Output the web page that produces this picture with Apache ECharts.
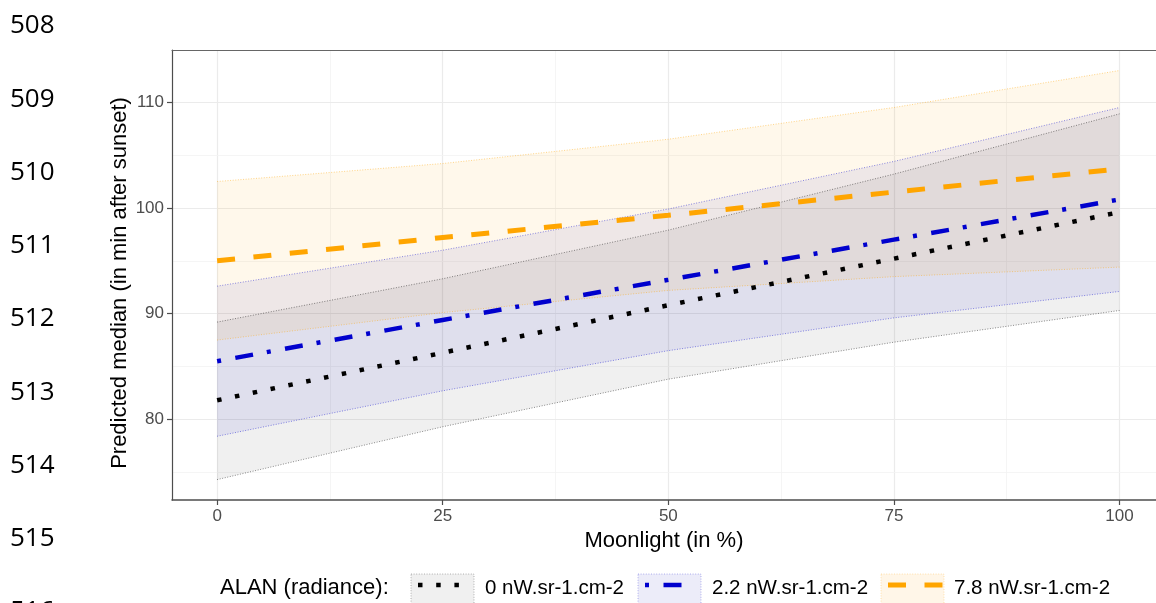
<!DOCTYPE html>
<html>
<head>
<meta charset="utf-8">
<script src="https://cdn.jsdelivr.net/npm/echarts@6/dist/echarts.min.js"></script>
<style>
html,body{margin:0;padding:0;background:#ffffff;}
#chart{width:1156px;height:603px;}
</style>
</head>
<body>
<div id="chart"></div>
<script>
// ---- data ----
const moonlight = [0, 25, 50, 75, 100];

const fit0 = [81.8, 86.3, 90.8, 95.2, 99.6];
const lo0  = [74.3, 79.3, 83.8, 87.3, 90.3];
const hi0  = [89.2, 93.3, 97.9, 103.2, 108.9];

const fit22 = [85.5, 89.4, 93.2, 97.0, 100.8];
const lo22  = [78.4, 82.7, 86.5, 89.6, 92.1];
const hi22  = [92.6, 96.0, 99.9, 104.4, 109.5];

const fit78 = [95.0, 97.2, 99.3, 101.5, 103.7];
const lo78  = [87.5, 90.1, 92.2, 93.5, 94.4];
const hi78  = [102.5, 104.2, 106.5, 109.5, 113.0];

const xTicks = [0, 25, 50, 75, 100];
const yTicks = [80, 90, 100, 110];
const xMinor = [12.5, 37.5, 62.5, 87.5];
const yMinor = [75, 85, 95, 105];

const legendTitle = 'ALAN (radiance):';
const legendLabels = ['0 nW.sr-1.cm-2', '2.2 nW.sr-1.cm-2', '7.8 nW.sr-1.cm-2'];
const lineNumbers = ['508', '509', '510', '511', '512', '513', '514', '515', '516'];

// ---- styling ----
const FONT = '"Liberation Sans", Arial, sans-serif';
const groups = [
  {name: legendLabels[0], color: '#000000', fill: 'rgba(0,0,0,0.06)', keyFill: '#f0f0f0',
   lo: lo0, hi: hi0, fit: fit0, dash: [4.5, 13.7], width: 4.5},
  {name: legendLabels[1], color: '#0000CD', fill: 'rgba(0,0,205,0.07)', keyFill: '#ececf9',
   lo: lo22, hi: hi22, fit: fit22, dash: [4, 14.5, 18, 14], width: 4.5},
  {name: legendLabels[2], color: '#FFA500', fill: 'rgba(255,165,0,0.08)', keyFill: '#fff6e8',
   lo: lo78, hi: hi78, fit: fit78, dash: [18, 18.5], width: 5}
];

function pairs(xs, ys) { return xs.map((x, i) => [x, ys[i]]); }

const series = [];
// gridlines (drawn through the axes' scales via markLine)
const gridLines = [];
xTicks.forEach(v => gridLines.push({xAxis: v, lineStyle: {color: '#ebebeb', width: 1.2, type: 'solid'}}));
xMinor.forEach(v => gridLines.push({xAxis: v, lineStyle: {color: '#f3f3f3', width: 0.8, type: 'solid'}}));
yTicks.forEach(v => gridLines.push({yAxis: v, lineStyle: {color: '#ebebeb', width: 1.2, type: 'solid'}}));
yMinor.forEach(v => gridLines.push({yAxis: v, lineStyle: {color: '#f3f3f3', width: 0.8, type: 'solid'}}));
series.push({
  type: 'line', name: 'grid', data: [[moonlight[0], fit0[0]]], symbol: 'none',
  lineStyle: {width: 0, opacity: 0}, silent: true, z: 0,
  markLine: {silent: true, symbol: ['none', 'none'], label: {show: false}, z: 0,
             animation: false, data: gridLines}
});

// confidence ribbons: polygons built from the hi / lo arrays through api.coord
groups.forEach((g, k) => {
  series.push({
    type: 'custom', name: g.name + ' ribbon', coordinateSystem: 'cartesian2d',
    data: [[moonlight[0], g.lo[0]]], silent: true, z: 2, clip: true,
    renderItem: function (params, api) {
      const pts = [];
      moonlight.forEach((x, i) => pts.push(api.coord([x, g.hi[i]])));
      for (let i = moonlight.length - 1; i >= 0; i--) pts.push(api.coord([moonlight[i], g.lo[i]]));
      return {type: 'polygon', shape: {points: pts}, style: {fill: g.fill, stroke: null}};
    }
  });
});
groups.forEach(g => {
  [g.lo, g.hi].forEach((arr, j) => {
    series.push({
      type: 'line', name: g.name + (j ? ' upper' : ' lower'),
      data: pairs(moonlight, arr), symbol: 'none', silent: true, z: 3,
      lineStyle: {color: g.color, width: 0.7, type: [1, 1.6], opacity: 0.65}
    });
  });
});

groups.forEach(g => {
  series.push({
    type: 'line', name: g.name, data: pairs(moonlight, g.fit),
    symbol: 'none', z: 4,
    lineStyle: {color: g.color, width: g.width, type: g.dash, cap: 'butt'}
  });
});

// ---- graphics: page line numbers and legend ----
const graphics = [];
lineNumbers.forEach((t, i) => {
  graphics.push({type: 'text', left: 10, top: 13 + i * 73.25, z: 10,
    style: {text: t, font: '26px "Open Sans", "Liberation Sans", sans-serif', fill: '#000'}});
});
graphics.push({type: 'text', z: 10,
  style: {text: legendTitle, x: 220, y: 588, font: '22px ' + FONT, fill: '#000',
          align: 'left', verticalAlign: 'middle', textAlign: 'left', textVerticalAlign: 'middle'}});
const keyX = [411, 638, 881];
const labelX = [485, 712, 954];
const lineSpan = [[418, 463], [645, 692], [888, 943]];
groups.forEach((g, k) => {
  graphics.push({type: 'rect', z: 10,
    shape: {x: keyX[k], y: 574, width: 63, height: 34},
    style: {fill: g.keyFill, stroke: g.color, lineWidth: 0.6, lineDash: [1, 1.6], strokeOpacity: 0.5}});
  graphics.push({type: 'line', z: 11,
    shape: {x1: lineSpan[k][0], y1: 585, x2: lineSpan[k][1], y2: 585},
    style: {stroke: g.color, lineWidth: g.width, lineDash: g.dash, lineCap: 'butt'}});
  graphics.push({type: 'text', z: 10,
    style: {text: g.name, x: labelX[k], y: 588, font: '20.5px ' + FONT, fill: '#000',
            align: 'left', verticalAlign: 'middle', textAlign: 'left', textVerticalAlign: 'middle'}});
});

const X_MIN = -5, X_MAX = 104.04;   // panel runs past the right edge of the picture
const Y_MIN = 72.37, Y_MAX = 114.94;

const chart = echarts.init(document.getElementById('chart'), null, {renderer: 'canvas'});
chart.setOption({
  animation: false,
  backgroundColor: '#ffffff',
  grid: {left: 172, top: 50, right: 0, bottom: 103, show: false, containLabel: false},
  xAxis: [{
    type: 'value', min: X_MIN, max: X_MAX,
    name: 'Moonlight (in %)', nameLocation: 'middle', nameGap: 29,
    nameTextStyle: {fontFamily: FONT, fontSize: 22, color: '#000'},
    axisLine: {show: true, onZero: false, lineStyle: {color: '#4d4d4d', width: 1.5}},
    axisTick: {show: true, length: 5, customValues: xTicks, lineStyle: {color: '#4d4d4d', width: 1.2}},
    axisLabel: {customValues: xTicks, fontFamily: FONT, fontSize: 17, color: '#4d4d4d', margin: 8},
    splitLine: {show: false}, minorSplitLine: {show: false}
  }, {
    type: 'value', position: 'top', min: X_MIN, max: X_MAX,
    axisLine: {show: true, onZero: false, lineStyle: {color: '#666666', width: 1}},
    axisTick: {show: false}, axisLabel: {show: false},
    splitLine: {show: false}, minorSplitLine: {show: false}
  }],
  yAxis: {
    type: 'value', min: Y_MIN, max: Y_MAX,
    name: 'Predicted median (in min after sunset)', nameLocation: 'middle', nameGap: 41,
    nameMoveOverlap: false,
    nameRotate: 90,
    nameTextStyle: {fontFamily: FONT, fontSize: 22, color: '#000', padding: [0, 16, 0, 0]},
    axisLine: {show: true, onZero: false, lineStyle: {color: '#4d4d4d', width: 1.2}},
    axisTick: {show: true, length: 5, customValues: yTicks, lineStyle: {color: '#4d4d4d', width: 1.2}},
    axisLabel: {customValues: yTicks, fontFamily: FONT, fontSize: 17, color: '#4d4d4d', margin: 8},
    splitLine: {show: false}, minorSplitLine: {show: false}
  },
  legend: {show: false},
  tooltip: {show: false},
  series: series,
  graphic: graphics
});
</script>
</body>
</html>
